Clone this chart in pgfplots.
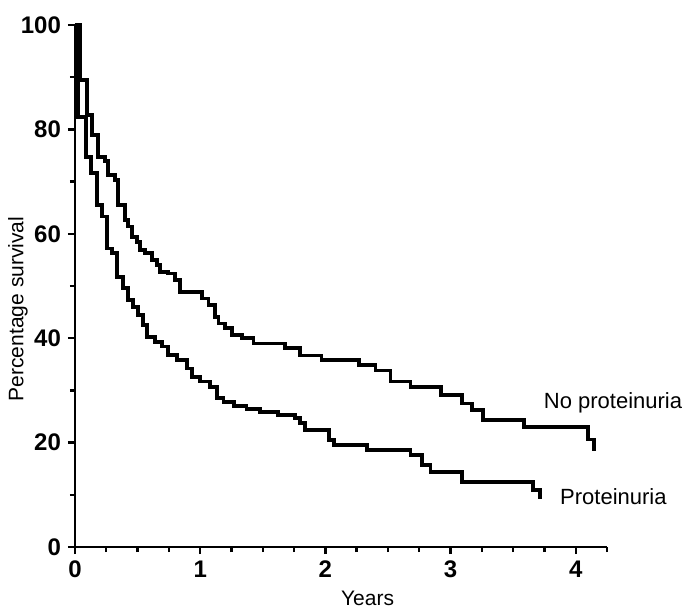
\documentclass[border=0pt]{standalone}
\usepackage{fontspec}
\setmainfont{Liberation Sans}
\usepackage{pgfplots}
\pgfplotsset{compat=1.18}

\pgfplotstableread{
x y
0 100
0.040 89.5
0.094 82.8
0.134 78.9
0.186 74.7
0.240 73.9
0.264 71.3
0.320 70.3
0.344 65.5
0.400 62.6
0.426 61.4
0.454 59.4
0.494 58.5
0.520 56.9
0.560 56.3
0.614 55.0
0.654 54.0
0.680 52.7
0.746 52.4
0.800 51.1
0.840 48.8
1.014 47.6
1.066 46.4
1.120 44.1
1.146 42.8
1.200 41.9
1.254 40.6
1.334 40.1
1.426 39.0
1.680 38.1
1.800 36.7
1.970 35.8
2.267 34.9
2.400 33.8
2.520 31.7
2.680 30.6
2.926 29.1
3.094 27.5
3.174 26.2
3.262 24.3
3.586 23.0
4.100 20.6
4.146 18.3
}\noprot

\pgfplotstableread{
x y
0 100
0.022 82.3
0.086 74.7
0.128 71.6
0.174 65.5
0.214 63.3
0.254 57.2
0.294 56.3
0.334 51.8
0.386 49.6
0.426 47.3
0.466 46.0
0.506 44.4
0.546 42.5
0.574 40.3
0.640 39.3
0.694 38.4
0.746 36.8
0.814 35.8
0.894 34.2
0.934 32.6
1.000 31.7
1.080 30.7
1.134 28.5
1.186 27.8
1.270 27.0
1.370 26.5
1.480 25.9
1.620 25.3
1.760 24.7
1.800 23.7
1.840 22.4
2.026 20.5
2.066 19.5
2.333 18.6
2.680 17.6
2.774 15.7
2.840 14.4
3.094 12.5
3.662 10.9
3.714 9.2
}\prot

\begin{document}
\begin{tikzpicture}
\begin{axis}[
    name=ax,
    scale only axis,
    width=266pt, height=261pt,
    xmin=0, xmax=4.25,
    ymin=0, ymax=100,
    axis x line*=bottom,
    axis y line*=left,
    axis line style={line width=1.4pt},
    xtick={0,1,2,3,4},
    minor xtick={0.25,0.5,0.75,1.25,1.5,1.75,2.25,2.5,2.75,3.25,3.5,3.75,4.25},
    ytick={0,20,40,60,80,100},
    minor ytick={10,30,50,70,90},
    tick align=outside,
    major tick length=3.5pt,
    minor tick length=2.5pt,
    every tick/.style={line width=1.2pt, black},
    /pgf/number format/assume math mode=true,
    ticklabel style={font=\fontsize{12}{14}\selectfont\bfseries},
    xlabel={Years},
    ylabel={Percentage survival},
    label style={font=\fontsize{10.5}{12}\selectfont},
    xlabel style={at={([yshift=-25.5pt]axis description cs:0.55,0)}, anchor=center},
    ylabel style={at={([xshift=-28.5pt]axis description cs:0,0.456)}, anchor=center},
    clip=false,
]
\addplot[const plot, line width=1.9pt, black] table[x=x, y=y] {\noprot};
\addplot[const plot, line width=1.9pt, black] table[x=x, y=y] {\prot};
\node[anchor=west, font=\fontsize{11}{13}\selectfont] at (axis cs:3.69,27.6) {No proteinuria};
\node[anchor=west, font=\fontsize{11}{13}\selectfont] at (axis cs:3.82,9.6) {Proteinuria};
\end{axis}
\pgfresetboundingbox
\path[use as bounding box] ([shift={(-37.5pt,-30pt)}]ax.south west) rectangle ([shift={(303.5pt,273.5pt)}]ax.south west);
\end{tikzpicture}
\end{document}
